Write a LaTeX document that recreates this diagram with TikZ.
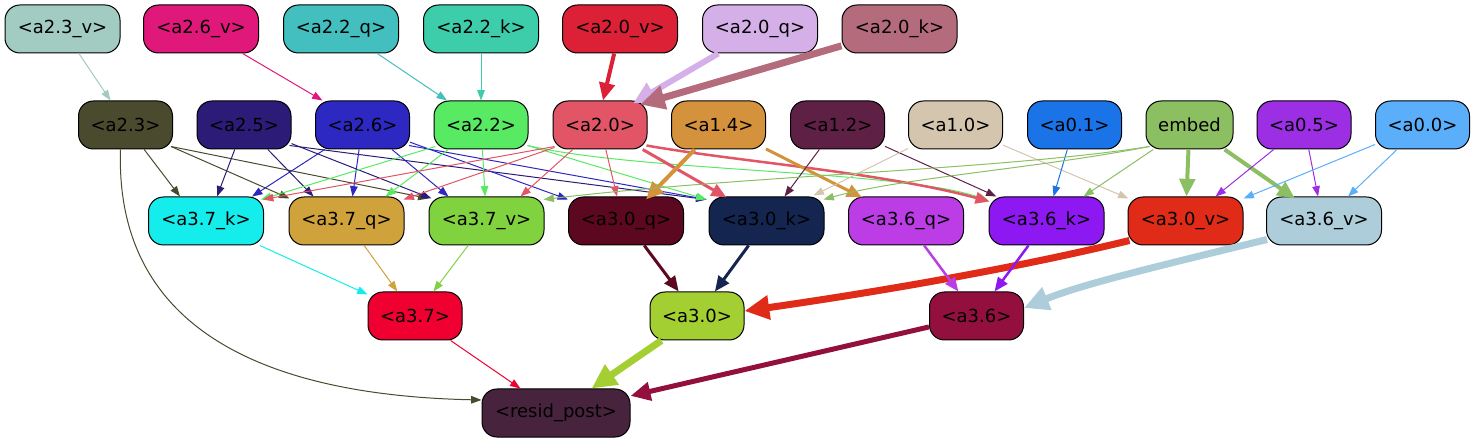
\documentclass[tikz,border=0pt]{standalone}
\usepackage{fontspec}
\setmainfont{DejaVu Sans}
\usetikzlibrary{arrows.meta}
\definecolor{c23v}{HTML}{A2CBC2}
\definecolor{c26v}{HTML}{E0187A}
\definecolor{c22q}{HTML}{43BFBF}
\definecolor{c22k}{HTML}{3ECDAA}
\definecolor{c20v}{HTML}{DC2035}
\definecolor{c20q}{HTML}{D5B0E8}
\definecolor{c20k}{HTML}{B46B7B}
\definecolor{c23}{HTML}{4A4A2F}
\definecolor{c25}{HTML}{2C1C78}
\definecolor{c26}{HTML}{2D28C2}
\definecolor{c22}{HTML}{58EA62}
\definecolor{c20}{HTML}{E15566}
\definecolor{c14}{HTML}{D4923D}
\definecolor{c12}{HTML}{5F2045}
\definecolor{c10}{HTML}{D3C5AE}
\definecolor{c01}{HTML}{1A74E8}
\definecolor{cemb}{HTML}{8CBE62}
\definecolor{c05}{HTML}{9C2FE3}
\definecolor{c00}{HTML}{5AAEFA}
\definecolor{c37k}{HTML}{15EDEC}
\definecolor{c37q}{HTML}{D0A23B}
\definecolor{c37v}{HTML}{80D23E}
\definecolor{c30q}{HTML}{5C0820}
\definecolor{c30k}{HTML}{142550}
\definecolor{c36q}{HTML}{BC3DE5}
\definecolor{c36k}{HTML}{8E18F2}
\definecolor{c30v}{HTML}{E02B18}
\definecolor{c36v}{HTML}{AECDDA}
\definecolor{c37}{HTML}{F00030}
\definecolor{c30}{HTML}{A4CF32}
\definecolor{c36}{HTML}{93103E}
\definecolor{cres}{HTML}{48233D}
\begin{document}
\begin{tikzpicture}[x=1pt,y=-1pt,
  nd/.style={draw=black, line width=1pt, rounded corners=15pt, minimum height=48pt,
    minimum width=94pt, inner sep=0pt, font=\fontsize{18}{22}\selectfont, text=black},
  wide/.style={minimum width=115pt},
  ed/.style={-{Triangle[length=8pt 2.4,width=5pt 2.6]}, line width=#1},
  ed/.default=1pt]
\useasboundingbox (0,0) rectangle (1475,443);
% row 1
\node[nd,wide,fill=c23v] (a23v) at (62.5,29) {<a2.3\_v>};
\node[nd,wide,fill=c26v] (a26v) at (201,29) {<a2.6\_v>};
\node[nd,wide,fill=c22q] (a22q) at (341,29) {<a2.2\_q>};
\node[nd,wide,fill=c22k] (a22k) at (481,29) {<a2.2\_k>};
\node[nd,wide,fill=c20v] (a20v) at (620,29) {<a2.0\_v>};
\node[nd,wide,fill=c20q] (a20q) at (760,29) {<a2.0\_q>};
\node[nd,wide,fill=c20k] (a20k) at (899.5,29) {<a2.0\_k>};
% row 2
\node[nd,fill=c23] (a23) at (125.5,125) {<a2.3>};
\node[nd,fill=c25] (a25) at (244,125) {<a2.5>};
\node[nd,fill=c26] (a26) at (362.5,125) {<a2.6>};
\node[nd,fill=c22] (a22) at (481,125) {<a2.2>};
\node[nd,fill=c20] (a20) at (600,125) {<a2.0>};
\node[nd,fill=c14] (a14) at (718.5,125) {<a1.4>};
\node[nd,fill=c12] (a12) at (837.5,125) {<a1.2>};
\node[nd,fill=c10] (a10) at (955.5,125) {<a1.0>};
\node[nd,fill=c01] (a01) at (1074.5,125) {<a0.1>};
\node[nd,fill=cemb,minimum width=87pt] (embed) at (1189.5,125) {embed};
\node[nd,fill=c05] (a05) at (1304,125) {<a0.5>};
\node[nd,fill=c00] (a00) at (1422.5,125) {<a0.0>};
% row 3
\node[nd,wide,fill=c37k] (a37k) at (206,221) {<a3.7\_k>};
\node[nd,wide,fill=c37q] (a37q) at (346.5,221) {<a3.7\_q>};
\node[nd,wide,fill=c37v] (a37v) at (486.5,221) {<a3.7\_v>};
\node[nd,wide,fill=c30q] (a30q) at (626,221) {<a3.0\_q>};
\node[nd,wide,fill=c30k] (a30k) at (766.5,221) {<a3.0\_k>};
\node[nd,wide,fill=c36q] (a36q) at (906,221) {<a3.6\_q>};
\node[nd,wide,fill=c36k] (a36k) at (1046.5,221) {<a3.6\_k>};
\node[nd,wide,fill=c30v] (a30v) at (1185.5,221) {<a3.0\_v>};
\node[nd,wide,fill=c36v] (a36v) at (1324,221) {<a3.6\_v>};
% row 4
\node[nd,fill=c37] (a37) at (415,316) {<a3.7>};
\node[nd,fill=c30] (a30) at (697,316) {<a3.0>};
\node[nd,fill=c36] (a36) at (976.5,316) {<a3.6>};
% row 5
\node[nd,fill=cres,minimum width=148pt] (resid) at (556,413) {<resid\_post>};

% row1 -> row2
\draw[ed,draw=c23v] (a23v) -- ([xshift=-15pt]a23.north);
\draw[ed,draw=c26v] (a26v) -- ([xshift=-40pt]a26.north);
\draw[ed,draw=c22q] (a22q) -- ([xshift=-34pt]a22.north);
\draw[ed,draw=c22k] (a22k) -- (a22);
\draw[ed=4pt,draw=c20v] (a20v) -- ([xshift=3pt]a20.north);
\draw[ed=6pt,draw=c20q] (a20q) -- ([xshift=33pt,yshift=-3pt]a20.north);
\draw[ed=7pt,draw=c20k] (a20k) -- ([xshift=40pt,yshift=-4pt]a20.north);

% a2.3
\draw[ed,draw=c23] (a23) -- ([xshift=-26pt]a37k.north);
\draw[ed,draw=c23] ([xshift=-2pt,yshift=3pt]a23.south east) -- ([xshift=-57pt,yshift=-2pt]a37q.north);
\draw[ed,draw=c23] ([xshift=-2pt,yshift=3pt]a23.south east) -- ([xshift=-58pt,yshift=-2pt]a37v.north);
\draw[ed,draw=c23] ([xshift=-5pt]a23.south) .. controls (115,320) and (250,395) .. ([yshift=13pt]resid.west);
% a2.5
\draw[ed,draw=c25] (a25) -- ([xshift=11pt]a37k.north);
\draw[ed,draw=c25] (a25) -- ([xshift=-33pt]a37q.north);
\draw[ed,draw=c25] (a25) -- ([xshift=-55pt,yshift=-2pt]a37v.north);
\draw[ed,draw=c25] ([xshift=-2pt,yshift=4pt]a25.south east) -- ([xshift=-60pt,yshift=-3pt]a30k.north);
% a2.6
\draw[ed,draw=c26] (a26) -- ([xshift=46pt]a37k.north);
\draw[ed,draw=c26] (a26) -- ([xshift=6pt]a37q.north);
\draw[ed,draw=c26] (a26) -- ([xshift=-38pt]a37v.north);
\draw[ed,draw=c26] (a26) -- ([xshift=-58pt,yshift=-3pt]a30q.north);
\draw[ed,draw=c26] ([xshift=-1pt,yshift=4pt]a26.south east) -- ([xshift=-60pt,yshift=-3pt]a30k.north);
% a2.2
\draw[ed,draw=c22] ([xshift=2pt,yshift=3pt]a22.south west) -- ([xshift=55pt,yshift=-3pt]a37k.north);
\draw[ed,draw=c22] (a22) -- ([xshift=39pt]a37q.north);
\draw[ed,draw=c22] (a22) -- (a37v);
\draw[ed,draw=c22] ([xshift=-1pt,yshift=4pt]a22.south east) -- ([xshift=-60pt,yshift=-3pt]a30k.north);
\draw[ed,draw=c22] ([xshift=-1pt,yshift=4pt]a22.south east) .. controls (640,172) and (900,170) .. ([xshift=-58pt,yshift=-4pt]a36k.north);
% a2.0
\draw[ed,draw=c20] ([xshift=2pt,yshift=3pt]a20.south west) -- ([xshift=57pt,yshift=-3pt]a37k.north);
\draw[ed,draw=c20] ([xshift=2pt,yshift=2pt]a20.south west) -- ([xshift=57pt,yshift=-3pt]a37q.north);
\draw[ed,draw=c20] (a20) -- ([xshift=34pt]a37v.north);
\draw[ed,draw=c20] (a20) -- ([xshift=-9pt]a30q.north);
\draw[ed=3pt,draw=c20] (a20) -- ([xshift=-40pt,yshift=-1pt]a30k.north);
\draw[ed=2.5pt,draw=c20] ([xshift=-1pt,yshift=4pt]a20.south east) .. controls (740,162) and (880,172) .. ([xshift=-57pt,yshift=-5pt]a36k.north);
% a1.4
\draw[ed=4pt,draw=c14] (a14) -- ([xshift=20pt,yshift=-3pt]a30q.north);
\draw[ed=3pt,draw=c14] (a14) -- ([xshift=-44pt,yshift=-1pt]a36q.north);
% a1.2
\draw[ed,draw=c12] (a12) -- ([xshift=18pt]a30k.north);
\draw[ed,draw=c12] (a12) -- ([xshift=-50pt]a36k.north);
% a1.0
\draw[ed,draw=c10] (a10) -- ([xshift=47pt,yshift=1pt]a30k.north);
\draw[ed,draw=c10] (a10) -- ([xshift=-57pt,yshift=-2pt]a30v.north);
% a0.1
\draw[ed,draw=c01] (a01) -- ([xshift=7pt]a36k.north);
% embed
\draw[ed,draw=cemb] ([xshift=4pt,yshift=3pt]embed.south west) .. controls (1000,170) and (750,175) .. ([xshift=57pt,yshift=-3pt]a37v.north);
\draw[ed,draw=cemb] ([xshift=4pt,yshift=3pt]embed.south west) .. controls (1040,168) and (900,178) .. ([xshift=57pt,yshift=-3pt]a30k.north);
\draw[ed,draw=cemb] (embed) -- ([xshift=37pt]a36k.north);
\draw[ed=4pt,draw=cemb] (embed) -- (a30v);
\draw[ed=4pt,draw=cemb] (embed) -- ([xshift=-29pt,yshift=-2pt]a36v.north);
% a0.5
\draw[ed,draw=c05] (a05) -- ([xshift=30pt]a30v.north);
\draw[ed,draw=c05] (a05) -- ([xshift=-6pt]a36v.north);
% a0.0
\draw[ed,draw=c00] (a00) -- ([xshift=58pt,yshift=-2pt]a30v.north);
\draw[ed,draw=c00] (a00) -- ([xshift=24pt]a36v.north);

% row3 -> row4
\draw[ed,draw=c37k] (a37k) -- (a37);
\draw[ed,draw=c37q] (a37q) -- (a37);
\draw[ed,draw=c37v] (a37v) -- (a37);
\draw[ed=3pt,draw=c30q] (a30q) -- (a30);
\draw[ed=3pt,draw=c30k] (a30k) -- (a30);
\draw[ed=7pt,draw=c30v] ([xshift=2pt,yshift=5pt]a30v.south west) .. controls (1000,272) and (850,296) .. ([yshift=5pt]a30.east);
\draw[ed=2.5pt,draw=c36q] (a36q) -- (a36);
\draw[ed=2.5pt,draw=c36k] (a36k) -- (a36);
\draw[ed=7pt,draw=c36v] ([xshift=1pt,yshift=6pt]a36v.south west) .. controls (1150,268) and (1080,285) .. ([yshift=8pt]a36.east);
% row4 -> resid
\draw[ed,draw=c37] (a37) -- (resid);
\draw[ed=7pt,draw=c30] (a30) -- (resid);
\draw[ed=5pt,draw=c36] (a36) -- (resid);
\end{tikzpicture}
\end{document}
